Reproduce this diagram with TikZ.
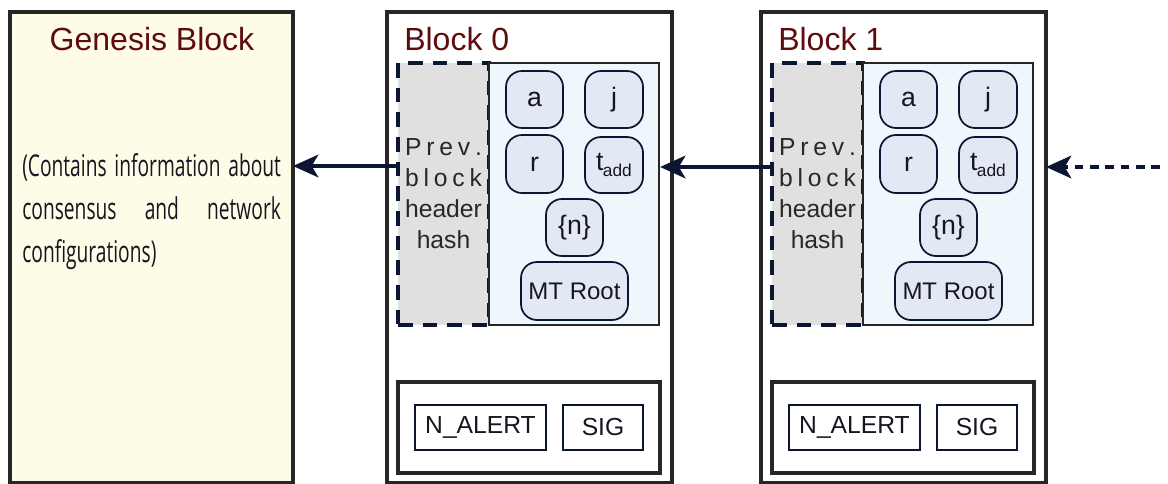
\documentclass[tikz,border=0pt]{standalone}
\usepackage{fontspec}
\setmainfont{Liberation Sans}
\newfontfamily\condfont[FakeStretch=0.64]{Open Sans}
\usetikzlibrary{arrows.meta}

\definecolor{titlered}{RGB}{94,12,12}
\definecolor{genfill}{RGB}{254,251,230}
\definecolor{frame}{RGB}{38,38,38}
\definecolor{navy}{RGB}{11,22,51}
\definecolor{hashfill}{RGB}{224,224,224}
\definecolor{bodyfill}{RGB}{240,247,252}
\definecolor{pillfill}{RGB}{227,233,244}
\definecolor{inktext}{RGB}{22,22,32}
\definecolor{hashtext}{RGB}{40,40,40}

\tikzset{
  outerbox/.style={draw=frame, line width=2.5pt, inner sep=0pt},
  titletext/.style={text=titlered, font=\fontsize{24}{28}\selectfont, anchor=base, inner sep=0pt},
  hashbox/.style={draw=navy, fill=hashfill, dash pattern=on 11pt off 7.5pt, line width=2.4pt,
                  inner sep=0pt, align=center, text=hashtext, font=\fontsize{18.5}{23.25}\selectfont,
                  minimum width=68.25pt, minimum height=196.5pt},
  bodybox/.style={draw=frame, fill=bodyfill, line width=1.7pt, inner sep=0pt,
                  minimum width=127.5pt, minimum height=196.5pt},
  pill/.style={draw=navy, fill=pillfill, rounded corners=12pt, line width=1.3pt, inner sep=0pt,
               text=inktext, font=\fontsize{20}{22}\selectfont,
               minimum width=42.75pt, minimum height=42.75pt},
  footbox/.style={draw=frame, fill=white, line width=2.5pt, inner sep=0pt,
                  minimum width=196.5pt, minimum height=68.25pt},
  fieldbox/.style={draw=navy, line width=1.3pt, inner sep=0pt, text=inktext,
                   font=\fontsize{18.5}{20}\selectfont, minimum height=33.75pt},
  link/.style={draw=navy, line width=2.5pt, -{Stealth[length=19pt, width=17pt, inset=5pt]}},
  condline/.style={anchor=base west, inner sep=0pt, text=inktext, font=\condfont\fontsize{22.5}{32}\selectfont}
}

% One block of the chain: #1 name prefix, #2 horizontal shift (px), #3 title
\newcommand\chainblock[3]{%
  \begin{scope}[xshift=#2*0.75pt]
    \draw[outerbox, fill=white] (387,12) rectangle (672,483);
    \coordinate (#1) at (672,247);
    \node[titletext, anchor=base west] (#1title) at (404,50) {#3};
    \node[hashbox] (#1hash) at (443.5,194)
      {\makebox[57.75pt][s]{P\hfill r\hfill e\hfill v\hfill .}\\
       \makebox[57.75pt][s]{b\hfill l\hfill o\hfill c\hfill k}\\
       header\\ hash};
    \node[bodybox] (#1body) at (574,194) {};
    \node[pill] (#1a) at (534.5,99.5) {a};
    \node[pill, minimum width=43.5pt] (#1j) at (614,99.5) {j};
    \node[pill, minimum height=43.5pt] (#1r) at (534.5,164) {r};
    \node[pill, minimum width=43.5pt, minimum height=42pt] (#1t) at (614,165)
      {t\kern-0.5pt\raisebox{-5pt}{\fontsize{13}{13}\selectfont add}};
    \node[pill] (#1n) at (574.5,227.5) {\{n\}};
    \node[pill, minimum width=80.25pt, minimum height=43.5pt, font=\fontsize{18}{20}\selectfont]
      (#1mt) at (574.5,291) {MT Root};
    \node[footbox] (#1foot) at (529,427.5) {};
    \node[fieldbox, minimum width=98.25pt] (#1alert) at (480.5,427.5) {N\_ALERT};
    \node[fieldbox, minimum width=60pt] (#1sig) at (603,427.5) {SIG};
  \end{scope}%
}

\begin{document}
\begin{tikzpicture}[x=0.75pt, y=-0.75pt]
  \useasboundingbox (0,0) rectangle (1168,483);
  \clip (0,0) rectangle (1168,483);

  % genesis block
  \draw[outerbox, fill=genfill] (10,12) rectangle (293,483);
  \coordinate (genesis) at (293,247);
  \node[titletext] (gentitle) at (152,50) {Genesis Block};
  \node[condline] (gl1) at (22,176) {\makebox[194pt][s]{(Contains information about}};
  \node[condline] (gl2) at (22,219.5) {\makebox[194pt][s]{consensus and network}};
  \node[condline] (gl3) at (22,262) {configurations)};

  % the chain
  \chainblock{b0}{0}{Block 0}
  \chainblock{b1}{374}{Block 1}

  % back links to previous headers
  \coordinate (ya) at (0,166);
  \coordinate (in) at (1160,167);
  \draw[link] (b0hash.west |- ya) -- (genesis |- ya);
  \draw[link] (b1hash.west |- in) -- (b0body.east |- in);
  \draw[link, dash pattern=on 6.5pt off 5pt] (in) -- (b1 |- in);
\end{tikzpicture}
\end{document}
